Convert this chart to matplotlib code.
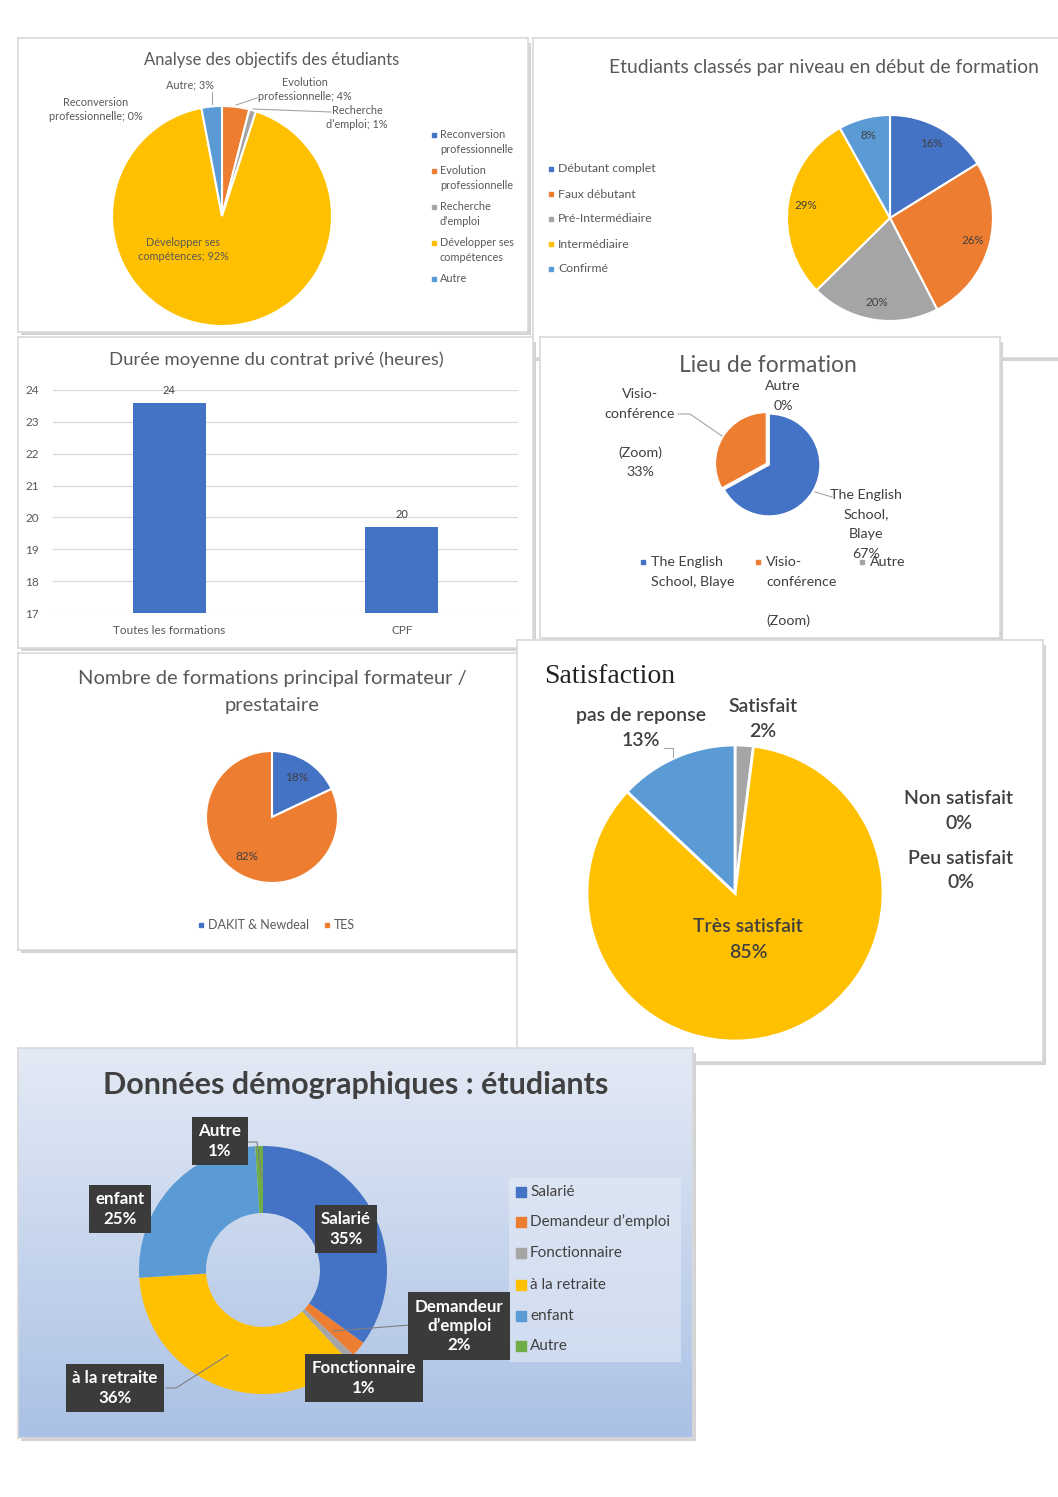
import textwrap
import numpy as np
import matplotlib.pyplot as plt
from matplotlib.patches import Rectangle
from matplotlib.colors import LinearSegmentedColormap

W, H = 1058, 1497
plt.rcParams['font.family'] = ['Lato', 'DejaVu Sans']

BLUE, ORANGE, GREY, YELLOW, LBLUE, GREEN = '#4472C4', '#ED7D31', '#A5A5A5', '#FFC000', '#5B9BD5', '#70AD47'
TXT = '#595959'
DARK = '#404040'

obj_cats = ['Reconversion\nprofessionnelle', 'Evolution\nprofessionnelle', 'Recherche\nd’emploi',
            'Développer ses\ncompétences', 'Autre']
obj_vals = [0, 4, 1, 92, 3]
obj_colors = [BLUE, ORANGE, GREY, YELLOW, LBLUE]

lvl_cats = ['Débutant complet', 'Faux débutant', 'Pré-Intermédiaire', 'Intermédiaire', 'Confirmé']
lvl_vals = [16, 26, 20, 29, 8]
lvl_colors = [BLUE, ORANGE, GREY, YELLOW, LBLUE]

dur_cats = ['Toutes les formations', 'CPF']
dur_vals = [23.6, 19.7]
dur_ticks = [17, 18, 19, 20, 21, 22, 23, 24]

lieu_cats = ['The English\nSchool, Blaye', 'Visio-\nconférence\n\n(Zoom)', 'Autre']
lieu_vals = [67, 33, 0]
lieu_colors = [BLUE, ORANGE, GREY]

prest_cats = ['DAKIT & Newdeal', 'TES']
prest_vals = [18, 82]
prest_colors = [BLUE, ORANGE]

sat_cats = ['Non satisfait', 'Peu satisfait', 'Satisfait', 'Très satisfait', 'pas de reponse']
sat_vals = [0, 0, 2, 85, 13]
sat_colors = [BLUE, ORANGE, GREY, YELLOW, LBLUE]

demo_cats = ['Salarié', 'Demandeur d’emploi', 'Fonctionnaire', 'à la retraite', 'enfant', 'Autre']
demo_vals = [35, 2, 1, 36, 25, 1]
demo_colors = [BLUE, ORANGE, GREY, YELLOW, LBLUE, GREEN]

fig = plt.figure(figsize=(W / 100, H / 100), dpi=100)
fig.patch.set_facecolor('white')


def Y(y):
    # page pixels are measured from the top
    return H - y


def panel(x0, y0, x1, y1):
    ax = fig.add_axes([x0 / W, 1 - y1 / H, (x1 - x0) / W, (y1 - y0) / H])
    ax.set_xlim(x0, x1)
    ax.set_ylim(Y(y1), Y(y0))
    ax.set_xticks([])
    ax.set_yticks([])
    for s in ax.spines.values():
        s.set_color('#d9d9d9')
        s.set_linewidth(1.2)
    # little drop shadow like the pasted office charts
    ax.add_patch(Rectangle((x1, Y(y1) - 3), 3, y1 - y0 - 2, fc='#d3d3d3', ec='none', clip_on=False))
    ax.add_patch(Rectangle((x0 + 3, Y(y1) - 3), x1 - x0, 3, fc='#d3d3d3', ec='none', clip_on=False))
    return ax


def block(ax, x, y, s, lead, **kw):
    # multi-line text, y is the centre of the first line
    for i, line in enumerate(s.split('\n')):
        ax.text(x, Y(y + i * lead), line, va='center', **kw)


def leader(ax, xs, ys, color='#a6a6a6'):
    ax.plot(xs, [Y(v) for v in ys], color=color, lw=0.8)


def legend(ax, xs, ys, labels, colors, size, ms, gap, lead, color=TXT):
    for x, y, lab, c in zip(xs, ys, labels, colors):
        ax.plot(x, Y(y), marker='s', ms=ms, color=c, ls='none')
        block(ax, x + gap, y, lab, lead, ha='left', fontsize=size, color=color)


# ---- 1. objectifs ----
ax = panel(18, 38, 528, 332)
ax.text(272, Y(60), 'Analyse des objectifs des étudiants', ha='center', va='center', fontsize=12, color=TXT)
ax.pie(obj_vals, colors=obj_colors, center=(222, Y(216)), radius=110, startangle=90,
       counterclock=False, frame=True, wedgeprops=dict(edgecolor='white', linewidth=1.5))
obj_pos = [(96, 103), (305, 82), (357, 110), (183, 243), (190, 85)]
for cat, v, (x, y) in zip(obj_cats, obj_vals, obj_pos):
    block(ax, x, y, f'{cat}; {v}%', 14, ha='center', fontsize=7.8, color=TXT)
leader(ax, [212, 212], [92, 104])
leader(ax, [257, 236], [98, 105])
leader(ax, [253, 331], [109, 112])
legend(ax, [434] * 5, [135, 171, 207, 243, 279], obj_cats, obj_colors, 7.8, 3.5, 6, 14.5)

# ---- 2. niveaux ----
ax = panel(533, 38, 1066, 358)
ax.text(824, Y(67), 'Etudiants classés par niveau en début de formation', ha='center', va='center',
        fontsize=13.9, color=TXT)
ax.pie(lvl_vals, colors=lvl_colors, center=(890, Y(218)), radius=103, startangle=90,
       counterclock=False, frame=True, autopct='%1.0f%%', pctdistance=0.83,
       textprops=dict(fontsize=8.3, color=DARK), wedgeprops=dict(edgecolor='white', linewidth=1.5))
legend(ax, [551] * 5, [169, 194, 219, 244, 269], lvl_cats, lvl_colors, 8.8, 3.5, 7, 14)

# ---- 3. durée ----
ax = panel(18, 337, 533, 648)
ax.text(276, Y(360), 'Durée moyenne du contrat privé (heures)', ha='center', va='center',
        fontsize=13.3, color=TXT)
bx = fig.add_axes([53 / W, 1 - 613 / H, 465 / W, 223 / H])
bx.set_facecolor('none')
bars = bx.bar(range(len(dur_cats)), dur_vals, width=0.315, color=BLUE, zorder=3)
for b, v in zip(bars, dur_vals):
    bx.annotate(f'{v:.0f}', (b.get_x() + b.get_width() / 2, v), xytext=(0, 5), textcoords='offset points',
                ha='center', va='bottom', fontsize=8, color=DARK)
bx.set_xlim(-0.5, 1.5)
bx.set_ylim(17, 24)
bx.set_yticks(dur_ticks)
bx.set_xticks(range(len(dur_cats)))
bx.set_xticklabels(dur_cats)
bx.grid(axis='y', color='#d9d9d9', lw=0.9, zorder=0)
for s in bx.spines.values():
    s.set_visible(False)
bx.tick_params(length=0, labelsize=8.5, labelcolor=TXT)
bx.tick_params(axis='y', pad=10)
bx.tick_params(axis='x', pad=9)

# ---- 4. lieu ----
ax = panel(540, 337, 1000, 638)
ax.text(768, Y(366), 'Lieu de formation', ha='center', va='center', fontsize=16.5, color=TXT)
ax.pie(lieu_vals, colors=lieu_colors, center=(769, Y(465)), radius=51, startangle=90,
       counterclock=False, frame=True, explode=[0, 3, 0], wedgeprops=dict(edgecolor='white', linewidth=1))
block(ax, 640, 394, f'{lieu_cats[1]}\n{lieu_vals[1]}%', 19.5, ha='center', fontsize=10.3, color=DARK)
block(ax, 783, 386, f'{lieu_cats[2]}\n{lieu_vals[2]}%', 19.5, ha='center', fontsize=10.3, color=DARK)
block(ax, 866, 495, lieu_cats[0].replace(', ', ',\n') + f'\n{lieu_vals[0]}%', 19.5, ha='center',
      fontsize=10.3, color=DARK)
leader(ax, [678, 690, 722], [414, 414, 436])
leader(ax, [815, 832], [492, 497])
legend(ax, [643, 758, 862], [562] * 3, lieu_cats, lieu_colors, 10.3, 3.5, 8, 19.7, color=DARK)

# ---- 5. prestataire ----
ax = panel(18, 653, 518, 950)
block(ax, 272, 678, 'Nombre de formations principal formateur /\nprestataire', 27, ha='center',
      fontsize=14.5, color=TXT)
ax.pie(prest_vals, colors=prest_colors, center=(272, Y(817)), radius=66, startangle=90,
       counterclock=False, frame=True, autopct='%1.0f%%', pctdistance=0.7,
       textprops=dict(fontsize=8.5, color=DARK), wedgeprops=dict(edgecolor='white', linewidth=1.5))
legend(ax, [201, 327], [925, 925], prest_cats, prest_colors, 9, 3.5, 7, 14)

# ---- 6. satisfaction ----
ax = panel(517, 640, 1043, 1062)
ax.text(544, Y(676), 'Satisfaction', ha='left', va='center', fontsize=20, color='#222222',
        family=['Liberation Serif', 'DejaVu Serif'])
ax.pie(sat_vals, colors=sat_colors, center=(735, Y(893)), radius=148, startangle=90,
       counterclock=False, frame=True, wedgeprops=dict(edgecolor='white', linewidth=2))
sat_pos = [(959, 798), (961, 858), (763, 706), (748, 927), (641, 715)]
for cat, v, (x, y) in zip(sat_cats, sat_vals, sat_pos):
    block(ax, x, y, f'{cat}\n{v}%', 25, ha='center', fontsize=14, fontweight='semibold', color=DARK)
leader(ax, [664, 673, 673], [748, 748, 757])

# ---- 7. démographie ----
ax = panel(18, 1048, 693, 1438)
grad = LinearSegmentedColormap.from_list('bg', ['#e4eaf5', '#aac1e5'])
ax.imshow(np.linspace(0, 1, 256).reshape(-1, 1), cmap=grad, aspect='auto',
          extent=(18, 693, Y(1438), Y(1048)), zorder=0)
ax.set_xlim(18, 693)
ax.set_ylim(Y(1438), Y(1048))
ax.text(356, Y(1085), 'Données démographiques : étudiants', ha='center', va='center', fontsize=22,
        fontweight='bold', color=DARK)
ax.pie(demo_vals, colors=demo_colors, center=(263, Y(1270)), radius=124, startangle=90,
       counterclock=False, frame=True, wedgeprops=dict(width=67, edgecolor='none'))
demo_pos = [(346, 1229), (459, 1326), (364, 1378), (115, 1388), (120, 1209), (220, 1141)]
leader(ax, [248, 257, 262], [1142, 1142, 1178], color='#7f7f7f')
leader(ax, [410, 334], [1325, 1331], color='#7f7f7f')
leader(ax, [166, 176, 228], [1388, 1388, 1355], color='#7f7f7f')
for cat, v, (x, y) in zip(demo_cats, demo_vals, demo_pos):
    ax.text(x, Y(y), f'{textwrap.fill(cat, 13)}\n{v}%', ha='center', va='center', fontsize=12.2,
            fontweight='bold', color='white', linespacing=1.25,
            bbox=dict(boxstyle='square,pad=0.38', fc='#3b3b3b', ec='none'))
ax.add_patch(Rectangle((509, Y(1362)), 172, 184, fc='#e6ecf6', ec='none', alpha=0.55))
legend(ax, [521] * 6, [1192, 1222, 1253, 1285, 1316, 1346], demo_cats, demo_colors, 11, 6.5, 9, 14,
       color=DARK)

fig.savefig('out.png', dpi=100)
